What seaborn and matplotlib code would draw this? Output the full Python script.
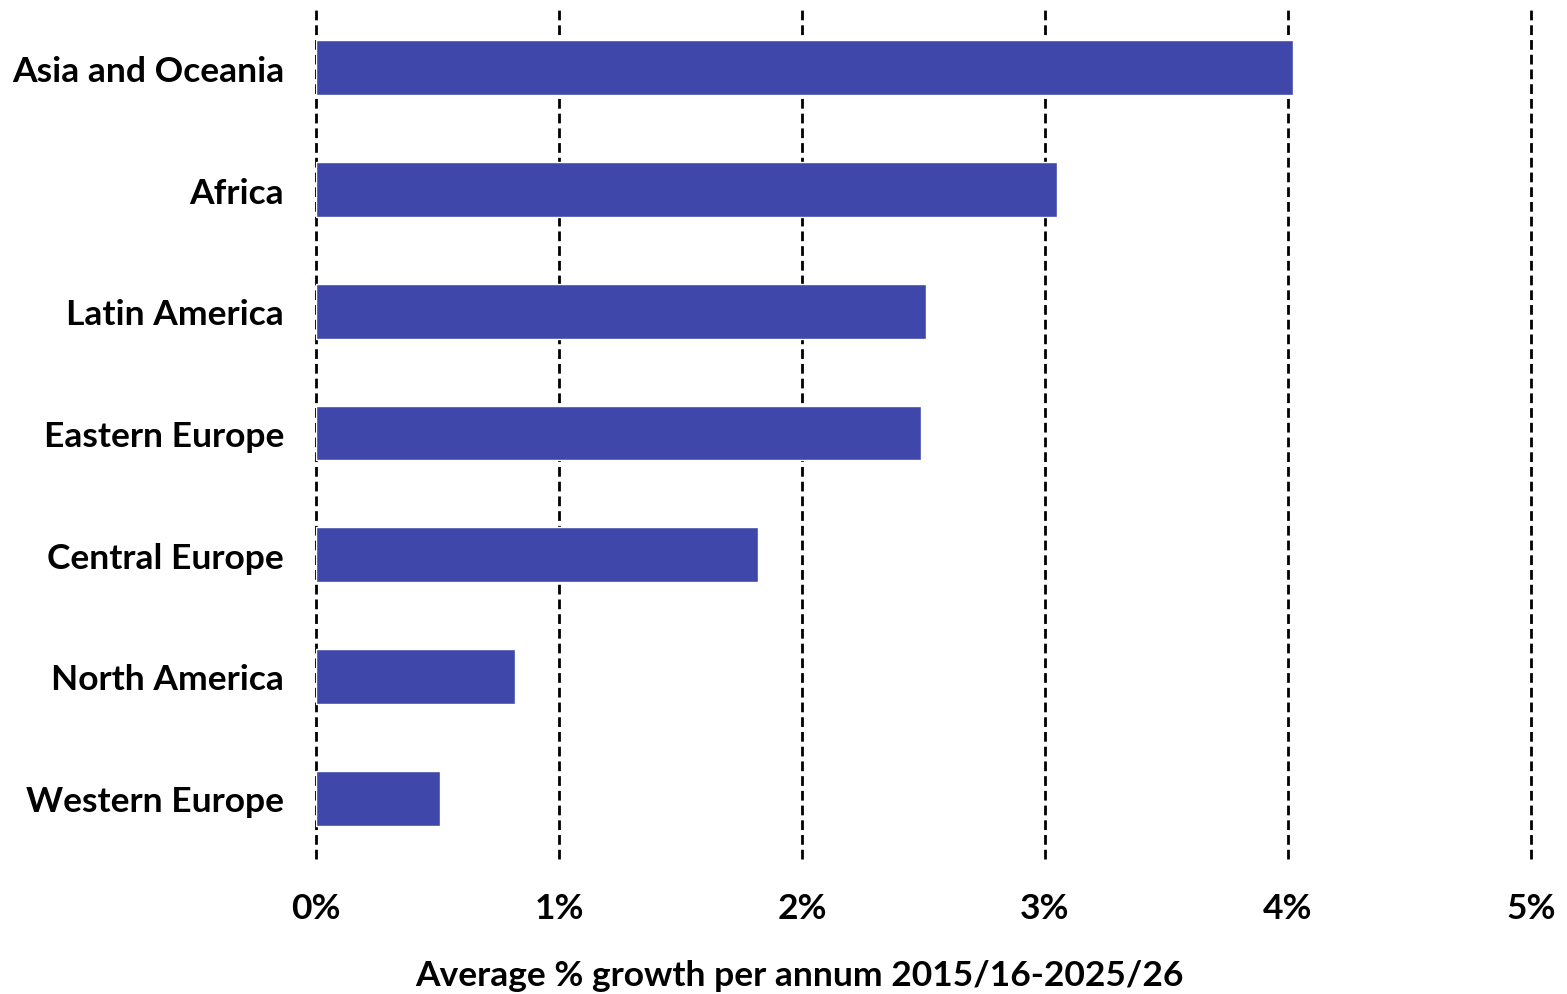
import matplotlib
matplotlib.use('Agg')
import matplotlib.pyplot as plt
import seaborn as sns
import pandas as pd

# data
regions = ['Asia and Oceania', 'Africa', 'Latin America', 'Eastern Europe',
           'Central Europe', 'North America', 'Western Europe']
growth = [4.02, 3.05, 2.51, 2.49, 1.82, 0.82, 0.51]
xticks = [0, 1, 2, 3, 4, 5]
xtick_labels = ['0%', '1%', '2%', '3%', '4%', '5%']

df = pd.DataFrame({'region': regions, 'growth': growth})

sns.set_style('white')
plt.rcParams['font.family'] = ['Lato', 'DejaVu Sans']
plt.rcParams['font.weight'] = 'bold'
plt.rcParams['text.color'] = 'black'
plt.rcParams['axes.labelcolor'] = 'black'
plt.rcParams['xtick.color'] = 'black'
plt.rcParams['ytick.color'] = 'black'

fig = plt.figure(figsize=(15.67, 9.95), dpi=100)
ax = fig.add_axes([0.2017, 0.1357, 0.7753, 0.8563])

sns.barplot(data=df, x='growth', y='region', orient='h', color='#3F47AA',
            saturation=1, width=0.45, ax=ax, zorder=3)

ax.set_xlim(0, 5)
ax.set_ylim(6.5, -0.5)
for x in xticks:
    ax.axvline(x, color='black', linestyle=(0, (3.5, 1.8)), linewidth=2,
               zorder=1, clip_on=False)

ax.set_xticks(xticks)
ax.set_xticklabels(xtick_labels, fontsize=25.5, fontweight='bold')
ax.tick_params(axis='x', length=0, pad=24)
ax.tick_params(axis='y', length=0, pad=23, labelsize=25.5)
for lab in ax.get_yticklabels():
    lab.set_fontweight('bold')
ax.set_ylabel('')
ax.set_xlabel('Average % growth per annum 2015/16-2025/26', fontsize=25.5,
              fontweight='bold')
ax.xaxis.set_label_coords((799 - 316) / 1215, -0.117)
for s in ax.spines.values():
    s.set_visible(False)

fig.savefig('out.png', dpi=100)
